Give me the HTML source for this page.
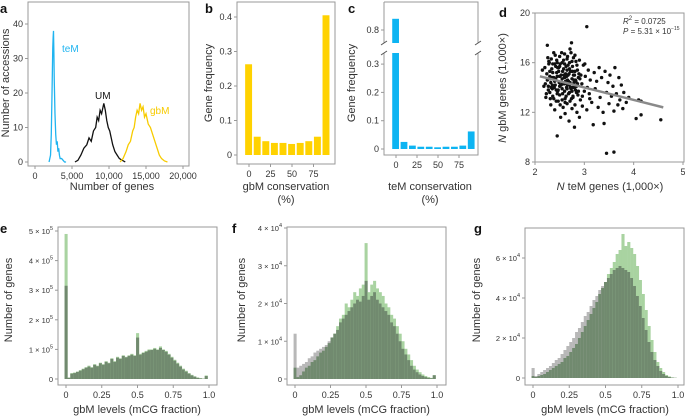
<!DOCTYPE html>
<html><head><meta charset="utf-8">
<style>
html,body{margin:0;padding:0;background:#fff;}
svg{display:block;font-family:"Liberation Sans",sans-serif;}
</style></head>
<body>
<svg id="fig" width="685" height="420" viewBox="0 0 685 420" xmlns="http://www.w3.org/2000/svg"></svg>
<script>
// ---- panel a data ----
const teMx=[1900,2100,2200,2300,2400,2450,2500,2550,2600,2700,2800,2900,3000,3100,3200,3300,3400,3600,3800,4000,4200];
const teMy=[0,2,8,20,33,36,38,32,24,14,8,5,6,3,4,2,1,1,0.5,0,0];
const UMx=[5400,5800,6200,6600,7000,7300,7600,7900,8200,8400,8600,8800,9000,9200,9300,9500,9700,9900,10100,10300,10500,10800,11100,11400,11800,12200];
const UMy=[0,0.5,2,4,5,7,6,9,10,13,12,15,14,16,17,15,12,10,9,7,5,3,2,1,0.5,0];
const gbMx=[11500,11900,12300,12600,12900,13200,13400,13600,13800,14000,14200,14400,14600,14800,15000,15300,15600,15900,16200,16500,16800,17100,17500,17900];
const gbMy=[0,1,3,5,6,9,10,13,15,14,17,15,16,13,14,11,10,8,6,4,2,1,0.3,0];
const aXticks=[0,5000,10000,15000,20000];
const aXlabels=["0","5,000","10,000","15,000","20,000"];
const aYticks=[0,10,20,30,40];
// ---- panel b data ----
const consBins=[0,10,20,30,40,50,60,70,80,90];
const gbmCons=[0.263,0.053,0.040,0.035,0.035,0.032,0.035,0.040,0.053,0.405];
const bYticks=[0,0.1,0.2,0.3,0.4];
const consTicks=[0,25,50,75];
// ---- panel c data ----
const temCons=[0.87,0.025,0.012,0.008,0.008,0.006,0.008,0.008,0.012,0.062];
const cYticksLow=[0,0.1,0.2,0.3];
const cYticksHigh=[0.8];
// ---- panel d data ----
const scatterX=[2.15,2.18,2.2,2.22,2.25,2.25,2.28,2.3,2.3,2.32,2.33,2.35,2.36,2.38,2.38,2.4,2.4,2.42,2.43,2.44,2.45,2.45,2.47,2.48,2.5,2.5,2.5,2.52,2.53,2.55,2.55,2.56,2.57,2.58,2.6,2.6,2.6,2.61,2.62,2.63,2.64,2.65,2.65,2.66,2.67,2.68,2.69,2.7,2.7,2.71,2.72,2.73,2.74,2.75,2.75,2.76,2.77,2.78,2.79,2.8,2.8,2.81,2.82,2.83,2.84,2.85,2.86,2.87,2.88,2.9,2.9,2.92,2.93,2.95,2.96,2.98,3.0,3.02,3.05,3.05,3.08,3.1,3.12,3.15,3.18,3.2,3.22,3.25,3.28,3.3,3.32,3.35,3.38,3.4,3.42,3.45,3.45,3.48,3.5,3.52,3.55,3.58,3.6,3.6,3.62,3.65,3.68,3.7,3.72,3.75,3.78,3.8,3.85,3.9,4.05,4.1,4.15,4.15,4.55,2.3,2.35,2.4,2.45,2.5,2.55,2.6,2.65,2.7,2.75,2.8,2.85,2.35,2.45,2.55,2.65,2.75,2.5,2.6,2.7,2.32,2.42,2.52,2.62,2.72,2.82,2.27,2.37,2.47,2.57,2.67,2.77,
2.21,2.24,2.27,2.29,2.31,2.34,2.36,2.39,2.41,2.44,2.46,2.49,2.51,2.54,2.56,2.59,2.61,2.64,2.66,2.69,2.71,2.74,2.76,2.79,2.81,2.84,2.86,2.89,2.23,2.28,2.33,2.38,2.43,2.48,2.53,2.58,2.63,2.68,2.73,2.78,2.83,2.88,2.26,2.31,2.36,2.41,2.46,2.51,2.56,2.61,2.66,2.71,2.76,2.81,2.86,2.91,2.96,3.01,3.06,3.11];
const scatterY=[15.4,14.1,15.6,13.2,14.6,17.4,15.9,13.6,14.9,12.6,16.3,14.2,15.2,13.1,16.8,14.5,12.2,15.7,13.8,16.2,10.1,14.9,12.9,15.3,13.4,16.5,14.1,11.6,15.0,13.0,16.0,14.4,12.4,15.5,13.7,14.8,16.7,11.9,15.1,13.3,14.0,16.3,12.7,14.6,15.8,13.5,11.3,14.2,16.0,12.9,15.3,13.9,17.6,14.7,12.3,15.7,13.2,16.4,14.4,10.8,15.0,12.6,13.8,16.1,14.1,12.0,15.4,13.4,14.8,11.6,16.2,13.0,15.0,14.3,12.5,15.8,13.7,14.9,18.9,12.2,15.4,13.5,14.6,12.8,11.0,15.2,13.9,14.5,12.4,15.6,13.2,14.8,12.0,11.1,15.3,8.7,13.6,14.4,12.7,15.0,13.3,14.1,8.8,12.1,15.6,13.5,12.6,14.8,13.0,14.2,12.3,13.6,12.8,13.2,11.5,13.0,11.8,12.9,11.4,15.3,13.9,15.9,13.5,15.7,14.7,15.9,13.9,15.5,13.7,14.0,15.8,14.8,16.0,13.9,15.4,16.1,14.9,14.3,13.6,14.4,14.7,14.2,14.5,14.0,14.6,14.1,14.8,13.8,14.3,15.0,13.3,
14.3,15.1,13.8,16.0,14.7,15.5,13.3,14.0,16.6,15.2,13.7,14.4,15.9,16.8,13.5,15.0,12.8,14.9,16.5,15.1,14.4,13.1,15.3,14.6,16.6,13.6,14.3,15.1,13.5,16.1,14.0,14.8,12.9,15.6,14.2,16.2,15.7,14.5,16.8,15.0,14.5,13.7,16.4,13.1,15.9,14.2,15.6,12.6,15.3,13.1,14.2,17.1,14.0,15.3,14.3,14.7,13.3,15.9,14.0,13.1];
const fitX=[2.1,4.6];
const fitY=[14.9,12.4];
const dXticks=[2,3,4,5];
const dYticks=[8,12,16,20];
// ---- panels e,f,g data (bins of 0.02) ----
const eGreen=[4.9,0.05,0.2,0.22,0.25,0.3,0.35,0.4,0.45,0.4,0.5,0.45,0.55,0.5,0.6,0.55,0.7,0.6,0.75,0.7,0.8,0.75,0.8,0.85,0.8,1.55,0.85,0.9,0.95,1.0,1.0,1.05,1.0,1.1,1.0,0.95,0.85,0.75,0.65,0.55,0.45,0.35,0.28,0.2,0.14,0.09,0.05,0.03,0.01,0.12];
const eGray=[3.15,0.04,0.18,0.2,0.24,0.28,0.33,0.38,0.42,0.38,0.48,0.43,0.53,0.48,0.58,0.53,0.68,0.58,0.72,0.68,0.78,0.73,0.78,0.82,0.78,1.4,0.82,0.88,0.92,0.97,0.98,1.02,0.98,1.05,0.98,0.92,0.82,0.72,0.62,0.52,0.42,0.32,0.25,0.18,0.12,0.08,0.04,0.02,0.01,0.1];
const fGray=[1.2,0.3,0.35,0.4,0.45,0.55,0.6,0.7,0.75,0.8,0.85,0.9,1.0,1.1,1.2,1.3,1.5,1.6,1.7,1.8,1.9,2.0,2.1,2.05,2.2,2.6,2.1,2.2,2.3,2.1,2.0,1.9,1.8,1.7,1.5,1.4,1.2,1.0,0.8,0.65,0.5,0.35,0.25,0.18,0.12,0.08,0.05,0.03,0.02,0.1];
const fGreen=[0.3,0.05,0.1,0.2,0.3,0.35,0.45,0.5,0.6,0.7,0.75,0.85,0.95,1.1,1.2,1.4,1.6,1.7,2.0,1.9,2.1,2.3,2.2,2.4,2.5,3.6,2.3,2.5,2.6,2.4,2.3,2.2,2.0,1.9,1.7,1.6,1.4,1.2,1.0,0.8,0.65,0.5,0.35,0.25,0.18,0.12,0.08,0.05,0.03,0.1];
const gGray=[0.5,0.1,0.2,0.3,0.4,0.5,0.6,0.75,0.9,1.0,1.2,1.4,1.6,1.8,2.0,2.3,2.5,2.8,3.1,3.3,3.6,3.9,4.1,4.4,4.6,4.8,5.0,5.2,5.4,5.5,5.6,5.5,5.4,5.3,5.0,4.6,4.1,3.6,3.0,2.4,1.8,1.3,0.9,0.6,0.35,0.2,0.1,0.05,0.02,0.01];
const gGreen=[0.1,0.05,0.1,0.15,0.2,0.3,0.4,0.5,0.6,0.7,0.8,1.0,1.1,1.3,1.5,1.7,2.0,2.3,2.6,2.9,3.2,3.5,3.8,4.2,4.5,4.8,5.2,5.5,5.8,6.2,6.4,7.2,6.6,6.8,6.5,6.2,5.6,4.9,4.2,3.4,2.6,1.9,1.3,0.8,0.5,0.3,0.15,0.08,0.03,0.01];
const levelTicks=[0,0.25,0.5,0.75,1.0];
const levelLabels=["0","0.25","0.5","0.75","1.0"];
const eYticks=[0,1,2,3,4,5];
const fYticks=[0,1,2,3,4];
const gYticks=[0,2,4,6];

const NS="http://www.w3.org/2000/svg";
const svg=document.getElementById('fig');
function mk(tag,attrs,name,parent){
  const e=document.createElementNS(NS,tag);
  for(const k in attrs)e.setAttribute(k,attrs[k]);
  
  
  (parent||svg).appendChild(e);return e;
}
function txt(x,y,s,name,opt){
  opt=opt||{};
  const t=mk('text',{x:x,y:y,'font-size':opt.size||9,fill:opt.fill||'#333','text-anchor':opt.anchor||'middle','font-weight':opt.weight||'normal'},name);
  if(opt.rot)t.setAttribute('transform','rotate(-90 '+x+' '+y+')');
  if(opt.html)t.innerHTML=s;else t.textContent=s;
  return t;
}
function lin(d0,d1,r0,r1){return v=>r0+(v-d0)/(d1-d0)*(r1-r0);}
function frame(x0,y0,x1,y1,name){mk('rect',{x:x0,y:y0,width:x1-x0,height:y1-y0,fill:'none',stroke:'#999','stroke-width':1},name);}
function xTicks(vals,labels,sx,yb,name){vals.forEach((v,i)=>{const x=sx(v);mk('line',{x1:x,x2:x,y1:yb,y2:yb+3,stroke:'#999'},name+'-tick');txt(x,yb+13,labels[i],name+'-label');});}
function yTicks(vals,labels,sy,xl,name,html){vals.forEach((v,i)=>{const y=sy(v);mk('line',{x1:xl-3,x2:xl,y1:y,y2:y,stroke:'#999'},name+'-tick');txt(xl-5,y+3,labels[i],name+'-label',{anchor:'end',html:html,size:html?7.5:9});});}
function panelLabel(x,y,s){txt(x,y,s,'panel-label-'+s,{anchor:'start',size:13,weight:'bold',fill:'#111'});}

// ---- Panel a ----
panelLabel(0,13,'a');
frame(28,2,189,166,'panel-a-frame');
const ax=lin(0,20000,35,183), ay=lin(0,40,162,24);
xTicks(aXticks,aXlabels,ax,166,'panel-a-x');
yTicks(aYticks,aYticks.map(String),ay,28,'panel-a-y');
function poly(xs,ys,sx,sy,color,name){mk('polyline',{points:xs.map((v,i)=>sx(v)+','+sy(ys[i])).join(' '),fill:'none',stroke:color,'stroke-width':1.3},name);}
poly(teMx,teMy,ax,ay,'#1fb4f0','teM-line');
poly(UMx,UMy,ax,ay,'#111','UM-line');
poly(gbMx,gbMy,ax,ay,'#f7cb00','gbM-line');
txt(62,52,'teM','teM-label',{anchor:'start',size:10,fill:'#1fb4f0'});
txt(95,99,'UM','UM-label',{anchor:'start',size:10,fill:'#111'});
txt(150,114,'gbM','gbM-label',{anchor:'start',size:10,fill:'#f7cb00'});
txt(112,190,'Number of genes','panel-a-x-title',{size:11});
txt(9,83,'Number of accessions','panel-a-y-title',{size:11,rot:true});

// ---- Panel b ----
panelLabel(205,13,'b');
frame(237,2,335,164,'panel-b-frame');
const bx=lin(0,25,249,270.5), by=lin(0,0.4,155,17);
consBins.forEach((c,i)=>{const w=bx(9)-bx(0);mk('rect',{x:bx(c)-w/2,y:by(gbmCons[i]),width:w-0.8,height:by(0)-by(gbmCons[i]),fill:'#ffd200'},'gbm-cons-bar');});
xTicks(consTicks,consTicks.map(String),bx,164,'panel-b-x');
yTicks(bYticks,["0","0.1","0.2","0.3","0.4"],by,237,'panel-b-y');
txt(286,190,'gbM conservation','panel-b-x-title',{size:11});
txt(286,203,'(%)','panel-b-x-unit',{size:11});
txt(212,83,'Gene frequency','panel-b-y-title',{size:11,rot:true});

// ---- Panel c ----
panelLabel(348,13,'c');
mk('path',{d:'M384,2 H478 V43 M478,53 V155 H384 V53 M384,43 V2',fill:'none',stroke:'#999'},'panel-c-frame');
const cx=lin(0,25,396,417), cy=lin(0,0.1,149,120.7), cyH=lin(0.8,0.9,30,14);
const cyc=v=>v>0.34?cyH(v):cy(v);
consBins.forEach((c,i)=>{const w=cx(9)-cx(0);const v=temCons[i];
  if(v>0.34){mk('rect',{x:cx(c)-w/2,y:cyH(v),width:w-0.8,height:43-cyH(v),fill:'#0db4f2'},'tem-cons-bar-upper');
    mk('rect',{x:cx(c)-w/2,y:53,width:w-0.8,height:149-53,fill:'#0db4f2'},'tem-cons-bar-lower');}
  else mk('rect',{x:cx(c)-w/2,y:cyc(v),width:w-0.8,height:149-cyc(v),fill:'#0db4f2'},'tem-cons-bar');});
[384,478].forEach(x=>{mk('line',{x1:x-3,y1:45,x2:x+3,y2:41,stroke:'#555'},'axis-break');mk('line',{x1:x-3,y1:55,x2:x+3,y2:51,stroke:'#555'},'axis-break');});
xTicks(consTicks,consTicks.map(String),cx,155,'panel-c-x');
yTicks(cYticksLow,["0","0.1","0.2","0.3"],cy,384,'panel-c-y');
yTicks(cYticksHigh,["0.8"],cyH,384,'panel-c-y-high');
txt(430,190,'teM conservation','panel-c-x-title',{size:11});
txt(430,203,'(%)','panel-c-x-unit',{size:11});
txt(355,83,'Gene frequency','panel-c-y-title',{size:11,rot:true});

// ---- Panel d ----
panelLabel(499,17,'d');
frame(535,13,684,162,'panel-d-frame');
const dx=lin(2,5,535,683), dy=lin(8,20,162,13);
scatterX.forEach((v,i)=>{mk('circle',{cx:dx(v),cy:dy(scatterY[i]),r:1.7,fill:'#111'},'scatter-point');});
mk('line',{x1:dx(fitX[0]),y1:dy(fitY[0]),x2:dx(fitX[1]),y2:dy(fitY[1]),stroke:'#8a8a8a','stroke-width':2.5},'fit-line');
xTicks(dXticks,dXticks.map(String),dx,162,'panel-d-x');
yTicks(dYticks,dYticks.map(String),dy,535,'panel-d-y');
txt(623,24,'<tspan font-style="italic">R</tspan><tspan dy="-4" font-size="6">2</tspan><tspan dy="4"> = 0.0725</tspan>','r-squared',{anchor:'start',size:8,html:true});
txt(623,34,'<tspan font-style="italic">P</tspan> = 5.31 × 10<tspan dy="-4" font-size="5">−15</tspan>','p-value',{anchor:'start',size:8,html:true});
txt(610,190,'<tspan font-style="italic">N</tspan> teM genes (1,000×)','panel-d-x-title',{size:11,html:true});
txt(506,88,'<tspan font-style="italic">N</tspan> gbM genes (1,000×)','panel-d-y-title',{size:11,rot:true,html:true});

// ---- Histograms e,f,g ----
function hist(gray,green,sx,sy,name){
  const w=sx(0.02)-sx(0);
  gray.forEach((g,i)=>{const gr=green[i];const x=sx(i*0.02)-w/2;const mx=Math.max(g,gr),mn=Math.min(g,gr);
    mk('rect',{x:x,y:sy(mx),width:w+0.2,height:sy(0)-sy(mx),fill:g>gr?'#b8b8b8':'#a9d3a1'},name+'-top-bar');
    mk('rect',{x:x,y:sy(mn),width:w+0.2,height:sy(0)-sy(mn),fill:'#718a6f'},name+'-overlap-bar');});
}
function sci(arr){return arr.map(v=>v===0?'0':v+' × 10<tspan dy="-4" font-size="5.5">X</tspan>');}
// e
panelLabel(0,233,'e');
frame(58,227,217,385,'panel-e-frame');
const ex=lin(0,1,66,209), ey=lin(0,5,379,231);
hist(eGray,eGreen,ex,ey,'panel-e');
xTicks(levelTicks,levelLabels,ex,385,'panel-e-x');
yTicks(eYticks,sci(eYticks).map(s=>s.replace('X','5')),ey,58,'panel-e-y',true);
txt(137,413,'gbM levels (mCG fraction)','panel-e-x-title',{size:11});
txt(12,300,'Number of genes','panel-e-y-title',{size:11,rot:true});
// f
panelLabel(232,233,'f');
frame(287,227,446,385,'panel-f-frame');
const fx=lin(0,1,295,437), fy=lin(0,4,379,228);
hist(fGray,fGreen,fx,fy,'panel-f');
xTicks(levelTicks,levelLabels,fx,385,'panel-f-x');
yTicks(fYticks,sci(fYticks).map(s=>s.replace('X','4')),fy,287,'panel-f-y',true);
txt(366,413,'gbM levels (mCG fraction)','panel-f-x-title',{size:11});
txt(245,300,'Number of genes','panel-f-y-title',{size:11,rot:true});
// g
panelLabel(474,233,'g');
frame(525,228,684,385,'panel-g-frame');
const gx=lin(0,1,533,678), gy=lin(0,2,378,338);
hist(gGray,gGreen,gx,gy,'panel-g');
xTicks(levelTicks,levelLabels,gx,385,'panel-g-x');
yTicks(gYticks,sci(gYticks).map(s=>s.replace('X','4')),gy,525,'panel-g-y',true);
txt(605,413,'gbM levels (mCG fraction)','panel-g-x-title',{size:11});
txt(480,300,'Number of genes','panel-g-y-title',{size:11,rot:true});
</script>
</body></html>
